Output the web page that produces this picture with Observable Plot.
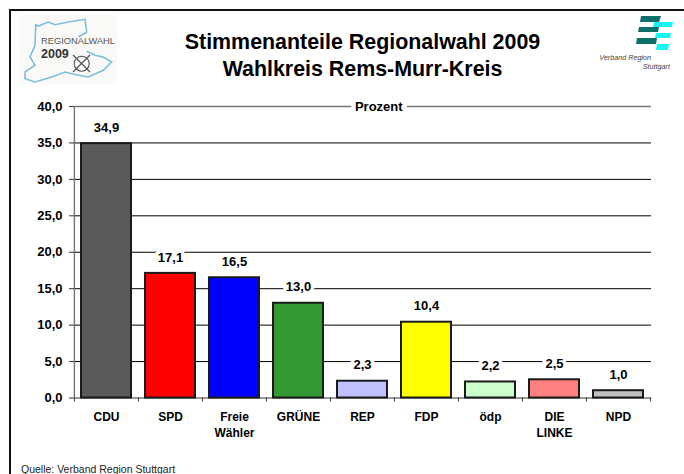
<!DOCTYPE html>
<html><head><meta charset="utf-8">
<script src="https://cdn.jsdelivr.net/npm/d3@7"></script>
<script src="https://cdn.jsdelivr.net/npm/@observablehq/plot@0.6"></script>
<style>
html,body{margin:0;padding:0;background:#fff;}
#page{position:relative;width:684px;height:474px;overflow:hidden;font-family:"Liberation Sans",Arial,sans-serif;color:#000;}
#frame{position:absolute;left:8.5px;top:8.5px;width:690px;height:480px;border:2px solid #111;box-sizing:border-box;}
#title{position:absolute;left:0;width:725px;top:28.5px;text-align:center;font-weight:bold;font-size:21.4px;line-height:27px;}
#source{position:absolute;left:21px;top:463px;font-size:10.5px;line-height:12px;color:#222;}
#chart{position:absolute;left:0;top:0;}
#chart svg{display:block;}
#logo,#brand{position:absolute;}
</style></head><body>
<div id="page">
<div id="chart"></div>
<div id="frame"></div>
<div id="title">Stimmenanteile Regionalwahl 2009<br>Wahlkreis Rems-Murr-Kreis</div>
<svg id="logo" style="left:19px;top:15px" width="100" height="70" viewBox="19 15 100 70">
<rect x="19" y="15" width="98" height="69" fill="#f9f9f7"/>
<path d="M78.3 37 L86.7 32 L85 19.3 L68.3 22 L55 24.7 L48.3 22 L38.3 26 L35.7 24.7 L35 45.3 L30 57 L35 65.3 L25 72 L25 78.7 L35 82 L51.7 77 L65 72 L78.3 75.3 L88.3 77 L103.3 70.3 L111.7 62 L103.3 57 L95 55.3 L86.7 51.3" fill="none" stroke="#7fbfdc" stroke-width="1.6"/>
<text x="41" y="44" font-size="8.5" fill="#555" font-family="Liberation Sans" textLength="74" lengthAdjust="spacingAndGlyphs">REGIONALWAHL</text>
<text x="41" y="58" font-size="12.5" font-weight="bold" fill="#333" font-family="Liberation Sans">2009</text>
<circle cx="81.7" cy="63.7" r="7.5" fill="none" stroke="#555" stroke-width="1.1"/>
<path d="M73 55 L90 72 M90 55 L73 72" stroke="#555" stroke-width="1.2"/>
</svg>
<svg id="brand" style="left:595px;top:10px" width="89" height="65" viewBox="595 10 89 65">
<g fill="#0f6f6c">
<path d="M641 16 H661 L659 22 H640 Z"/><path d="M639 27 H659 L658 32 H638 Z"/><path d="M637 38 H657 L656 44 H636 Z"/>
</g>
<g fill="#19f5f5">
<path d="M654 22 H673 L672 27 H653 Z"/><path d="M656 33 H671 L670 38 H655 Z"/><path d="M657 44 H669 L668 50 H656 Z"/>
</g>
<text x="651" y="60" font-size="7.2" font-style="italic" fill="#444" text-anchor="end" font-family="Liberation Sans">Verband Region</text>
<text x="670" y="68.5" font-size="7.2" font-style="italic" fill="#444" text-anchor="end" font-family="Liberation Sans">Stuttgart</text>
</svg>
<div id="source">Quelle: Verband Region Stuttgart</div>
</div>
<script>
const categories = ["CDU","SPD","Freie Wähler","GRÜNE","REP","FDP","ödp","DIE LINKE","NPD"];
const values = [34.9,17.1,16.5,13.0,2.3,10.4,2.2,2.5,1.0];
const colors = ["#5a5a5a","#ff0000","#0000ff","#339933","#c0c0ff","#ffff00","#ccffcc","#ff8080","#c0c0c0"];
const yTicks = [0,5,10,15,20,25,30,35,40];
const gridTicks = [5,10,15,20,25,30,35];
const rows = categories.map((c,i)=>({party:c,value:values[i],color:colors[i]}));
const comma = d => d.toFixed(1).replace(".",",");
const W=684,H=474,ml=73,mr=33,mt=106,mb=76.5;
const step=(W-ml-mr)/categories.length;
const chart = Plot.plot({
  width:W,height:H,marginLeft:ml,marginRight:mr,marginTop:mt,marginBottom:mb,
  style:{fontFamily:"'Liberation Sans',Arial,sans-serif",background:"transparent"},
  x:{domain:categories,paddingInner:0.22,paddingOuter:0.11,align:0.5,label:null},
  y:{domain:[0,40],label:null},
  marks:[
    Plot.ruleY(gridTicks,{stroke:"#000",strokeWidth:1}),
    Plot.ruleY([40],{stroke:"#777",strokeWidth:1.6}),
    Plot.ruleY([0],{stroke:"#777",strokeWidth:1.4}),
    Plot.ruleX([categories[0]],{dx:-step/2,y1:0,y2:40,stroke:"#777",strokeWidth:1.4}),
    Plot.ruleX(categories,{dx:-step/2,y1:0,y2:-0.55,stroke:"#333",strokeWidth:1}),
    Plot.ruleX([categories[categories.length-1]],{dx:step/2,y1:0,y2:-0.55,stroke:"#333",strokeWidth:1}),
    Plot.axisY({ticks:yTicks,tickSize:4,tickPadding:7,tickFormat:comma,fontSize:13,fontWeight:"bold",fill:"#000",stroke:"#333",label:null}),
    Plot.axisX({tickSize:0,tickPadding:12,fontSize:12,fontWeight:"bold",lineHeight:1.33,tickFormat:d=>d.replace(" ","\n"),label:null,fill:"#000"}),
    Plot.barY(rows,{x:"party",y:"value",fill:"color",stroke:"#1a1a1a",strokeWidth:2}),
    Plot.text(rows,{x:"party",y:"value",text:d=>comma(d.value),dy:-16,fontSize:13,fontWeight:"bold",fill:"#000",stroke:"#fff",strokeWidth:7,paintOrder:"stroke"}),
    Plot.text(["Prozent"],{x:()=>"GRÜNE",y:()=>40,text:d=>d,dx:step*1.25,fontSize:13,fontWeight:"bold",fill:"#000",stroke:"#fff",strokeWidth:9,paintOrder:"stroke"})
  ]
});
document.getElementById("chart").append(chart);
</script>
</body></html>
